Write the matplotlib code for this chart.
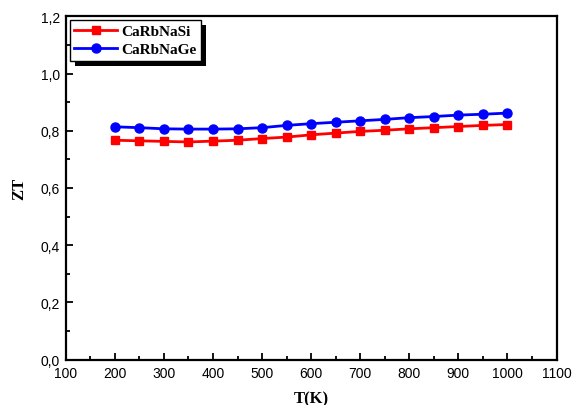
import matplotlib
matplotlib.use("Agg")
import matplotlib.pyplot as plt
from matplotlib.ticker import MultipleLocator, FuncFormatter
from matplotlib.patches import Rectangle
from matplotlib.transforms import IdentityTransform

T = [200, 250, 300, 350, 400, 450, 500, 550, 600, 650, 700, 750, 800, 850, 900, 950, 1000]
zt_si = [0.767, 0.765, 0.763, 0.761, 0.764, 0.767, 0.773, 0.778, 0.786, 0.792, 0.798,
         0.802, 0.807, 0.811, 0.815, 0.819, 0.822]
zt_ge = [0.814, 0.811, 0.807, 0.806, 0.806, 0.807, 0.811, 0.819, 0.825, 0.830, 0.835,
         0.840, 0.846, 0.850, 0.855, 0.858, 0.862]

fig = plt.figure(figsize=(5.72, 4.06), dpi=100)
ax = fig.add_axes([0.115, 0.112, 0.858, 0.845])

ax.plot(T, zt_si, color="red", marker="s", markersize=6, linewidth=2, label="CaRbNaSi")
ax.plot(T, zt_ge, color="blue", marker="o", markersize=6.5, linewidth=2, label="CaRbNaGe")

ax.set_xlim(100, 1100)
ax.set_ylim(0, 1.2)
ax.xaxis.set_major_locator(MultipleLocator(100))
ax.xaxis.set_minor_locator(MultipleLocator(50))
ax.yaxis.set_major_locator(MultipleLocator(0.2))
ax.yaxis.set_minor_locator(MultipleLocator(0.1))
ax.yaxis.set_major_formatter(FuncFormatter(lambda v, p: f"{v:.1f}".replace(".", ",")))

ax.tick_params(which="both", direction="in", top=False, right=False, width=1.3)
ax.tick_params(which="major", length=5, labelsize=10)
ax.tick_params(axis="x", which="major", pad=5)
ax.tick_params(axis="y", which="major", pad=4)
ax.tick_params(which="minor", length=3)
for lab in ax.get_xticklabels() + ax.get_yticklabels():
    lab.set_fontfamily("Liberation Sans")
for s in ax.spines.values():
    s.set_linewidth(1.6)

ax.set_xlabel("T(K)", fontfamily="Liberation Serif", fontweight="bold", fontsize=12, labelpad=7)
ax.set_ylabel("ZT", fontfamily="Liberation Serif", fontweight="bold", fontsize=12, labelpad=10)

leg = ax.legend(loc="upper left", bbox_to_anchor=(0.008, 0.99), borderaxespad=0,
                frameon=True, shadow=False, fancybox=False, edgecolor="black",
                facecolor="white", framealpha=1.0,
                borderpad=0.3, handlelength=2.8, handletextpad=0.25, labelspacing=0.3,
                prop={"family": "Liberation Serif", "weight": "bold", "size": 11})
leg.get_frame().set_linewidth(1.0)
leg.set_zorder(6)

fig.canvas.draw()
bb = leg.get_window_extent()
shadow = Rectangle((bb.x0 + 5, bb.y0 - 5), bb.width, bb.height, transform=IdentityTransform(),
                   facecolor="black", edgecolor="none", zorder=5.5)
ax.add_artist(shadow)

fig.savefig("out.png", dpi=100)
